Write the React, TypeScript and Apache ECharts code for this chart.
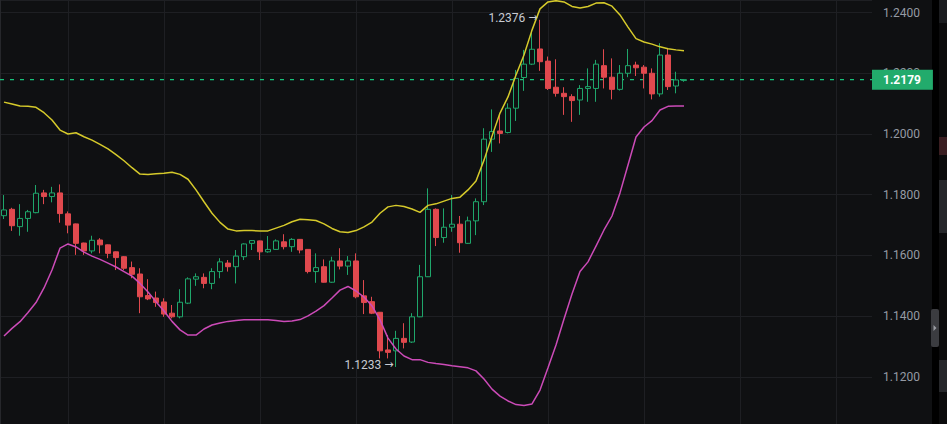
import React, { useEffect, useRef } from "react";
import * as echarts from "echarts";

// OHLC values (EUR/USD-like, 4 decimals)
const opens = [
  1.1731, 1.1752, 1.1695, 1.1722, 1.1741, 1.1806, 1.1794, 1.1806, 1.1737, 1.1704,
  1.1641, 1.1615, 1.1651, 1.1635, 1.1612, 1.1596, 1.1560, 1.1539, 1.1468, 1.1460,
  1.1447, 1.1410, 1.1398, 1.1443, 1.1522, 1.1528, 1.1508, 1.1547, 1.1575, 1.1563,
  1.1596, 1.1640, 1.1648, 1.1612, 1.1620, 1.1645, 1.1629, 1.1653, 1.1620, 1.1547,
  1.1563, 1.1512, 1.1582, 1.1565, 1.1582, 1.1467, 1.1448, 1.1413, 1.1289, 1.1286,
  1.1327, 1.1315, 1.1398, 1.1530, 1.1752, 1.1659, 1.1693, 1.1703, 1.1640, 1.1714,
  1.1777, 1.1983, 1.2010, 1.2005, 1.2085, 1.2186, 1.2230, 1.2280, 1.2240, 1.2154,
  1.2134, 1.2123, 1.2112, 1.2150, 1.2150, 1.2225, 1.2187, 1.2147, 1.2200, 1.2227,
  1.2220, 1.2200, 1.2132, 1.2260, 1.2158, 1.2176,
];
const closes = [
  1.1750, 1.1698, 1.1722, 1.1744, 1.1805, 1.1794, 1.1806, 1.1738, 1.1700, 1.1640,
  1.1615, 1.1650, 1.1635, 1.1607, 1.1593, 1.1558, 1.1538, 1.1464, 1.1457, 1.1445,
  1.1407, 1.1398, 1.1446, 1.1523, 1.1530, 1.1508, 1.1547, 1.1579, 1.1563, 1.1598,
  1.1638, 1.1649, 1.1612, 1.1620, 1.1648, 1.1629, 1.1653, 1.1618, 1.1547, 1.1560,
  1.1512, 1.1582, 1.1565, 1.1582, 1.1464, 1.1445, 1.1410, 1.1286, 1.1281, 1.1327,
  1.1314, 1.1398, 1.1530, 1.1752, 1.1659, 1.1693, 1.1703, 1.1642, 1.1714, 1.1777,
  1.1983, 1.2008, 1.2002, 1.2085, 1.2183, 1.2230, 1.2279, 1.2238, 1.2150, 1.2134,
  1.2123, 1.2110, 1.2150, 1.2156, 1.2230, 1.2187, 1.2147, 1.2200, 1.2225, 1.2218,
  1.2200, 1.2132, 1.2260, 1.2156, 1.2178, 1.2179,
];
const highs = [
  1.1799, 1.1757, 1.1769, 1.1750, 1.1832, 1.1816, 1.1826, 1.1834, 1.1745, 1.1705,
  1.1642, 1.1665, 1.1657, 1.1636, 1.1613, 1.1598, 1.1580, 1.1558, 1.1522, 1.1481,
  1.1459, 1.1437, 1.1489, 1.1528, 1.1541, 1.1541, 1.1558, 1.1591, 1.1585, 1.1618,
  1.1640, 1.1651, 1.1649, 1.1664, 1.1653, 1.1670, 1.1657, 1.1654, 1.1621, 1.1607,
  1.1587, 1.1596, 1.1624, 1.1598, 1.1607, 1.1519, 1.1464, 1.1414, 1.1338, 1.1352,
  1.1377, 1.1410, 1.1569, 1.1821, 1.1755, 1.1755, 1.1799, 1.1730, 1.1728, 1.1788,
  1.2019, 1.2081, 1.2063, 1.2101, 1.2211, 1.2277, 1.2342, 1.2376, 1.2255, 1.2246,
  1.2154, 1.2131, 1.2161, 1.2216, 1.2244, 1.2279, 1.2249, 1.2227, 1.2280, 1.2238,
  1.2227, 1.2216, 1.2299, 1.2282, 1.2205, 1.2180,
];
const lows = [
  1.1720, 1.1681, 1.1665, 1.1678, 1.1739, 1.1769, 1.1775, 1.1708, 1.1673, 1.1602,
  1.1602, 1.1607, 1.1607, 1.1591, 1.1552, 1.1552, 1.1525, 1.1410, 1.1453, 1.1431,
  1.1398, 1.1393, 1.1393, 1.1440, 1.1500, 1.1492, 1.1489, 1.1525, 1.1547, 1.1508,
  1.1585, 1.1618, 1.1585, 1.1609, 1.1618, 1.1620, 1.1612, 1.1607, 1.1541, 1.1510,
  1.1511, 1.1510, 1.1554, 1.1536, 1.1459, 1.1407, 1.1407, 1.1261, 1.1261, 1.1233,
  1.1294, 1.1312, 1.1397, 1.1529, 1.1631, 1.1642, 1.1678, 1.1609, 1.1638, 1.1667,
  1.1766, 1.1941, 1.1969, 1.2002, 1.2043, 1.2142, 1.2227, 1.2208, 1.2145, 1.2123,
  1.2063, 1.2040, 1.2063, 1.2106, 1.2106, 1.2150, 1.2114, 1.2143, 1.2187, 1.2191,
  1.2150, 1.2114, 1.2123, 1.2145, 1.2134, 1.2172,
];

// Bollinger band lines
const upperBand = [
  1.2105, 1.2099, 1.2092, 1.2091, 1.2088, 1.2070, 1.2046, 1.2013, 1.2000, 1.2004,
  1.1991, 1.1980, 1.1966, 1.1951, 1.1932, 1.1912, 1.1889, 1.1868, 1.1867, 1.1869,
  1.1871, 1.1874, 1.1867, 1.1851, 1.1816, 1.1777, 1.1739, 1.1709, 1.1687, 1.1681,
  1.1682, 1.1682, 1.1681, 1.1681, 1.1690, 1.1699, 1.1711, 1.1719, 1.1718, 1.1715,
  1.1704, 1.1689, 1.1678, 1.1676, 1.1682, 1.1694, 1.1710, 1.1739, 1.1760, 1.1765,
  1.1761, 1.1753, 1.1742, 1.1765, 1.1770, 1.1779, 1.1788, 1.1792, 1.1816, 1.1845,
  1.1914, 1.1993, 1.2069, 1.2122, 1.2194, 1.2260, 1.2342, 1.2412, 1.2435, 1.2439,
  1.2435, 1.2420, 1.2415, 1.2420, 1.2431, 1.2432, 1.2421, 1.2392, 1.2352, 1.2314,
  1.2303, 1.2296, 1.2287, 1.2281, 1.2277, 1.2274,
];
const lowerBand = [
  1.1335, 1.1360, 1.1382, 1.1412, 1.1445, 1.1493, 1.1552, 1.1624, 1.1638, 1.1628,
  1.1611, 1.1598, 1.1587, 1.1575, 1.1562, 1.1547, 1.1532, 1.1508, 1.1480, 1.1448,
  1.1417, 1.1383, 1.1355, 1.1338, 1.1338, 1.1358, 1.1371, 1.1378, 1.1383, 1.1386,
  1.1388, 1.1388, 1.1388, 1.1388, 1.1386, 1.1383, 1.1384, 1.1389, 1.1401, 1.1417,
  1.1435, 1.1460, 1.1486, 1.1498, 1.1483, 1.1463, 1.1434, 1.1388, 1.1328, 1.1292,
  1.1269, 1.1257, 1.1257, 1.1248, 1.1244, 1.1241, 1.1237, 1.1234, 1.1230, 1.1220,
  1.1193, 1.1160, 1.1137, 1.1121, 1.1109, 1.1106, 1.1111, 1.1157, 1.1230, 1.1305,
  1.1391, 1.1473, 1.1547, 1.1579, 1.1631, 1.1684, 1.1730, 1.1806, 1.1898, 1.1990,
  1.2023, 1.2044, 1.2079, 1.2091, 1.2092, 1.2092,
];

// empty future slots to the right of the last candle
const futureSlots = 23;
// visible price range of the pane
const priceMin = 1.104511;
const priceMax = 1.244122;

const BG = "#0f1012";
const GREEN = "#1fa66b";
const TAG_GREEN = "#22ab6c";
const LINE_GREEN = "#17c27c";
const RED = "#e0494e";
const GRID = "#1e1f23";
const FONT = 'Roboto, "Noto Sans", sans-serif';

export default function App() {
  const ref = useRef<HTMLDivElement>(null);

  useEffect(() => {
    const el = ref.current;
    if (!el) return;
    const chart = echarts.init(el, null, { renderer: "svg" });

    const n = opens.length;
    const total = n + futureSlots;
    const categories = Array.from({ length: total }, (_, i) => String(i));
    const candles = opens.map((o, i) => [o, closes[i], lows[i], highs[i]]);

    let hiIdx = 0;
    let loIdx = 0;
    highs.forEach((h, i) => {
      if (h > highs[hiIdx]) hiIdx = i;
    });
    lows.forEach((l, i) => {
      if (l < lows[loIdx]) loIdx = i;
    });
    const lastClose = closes[n - 1];

    const annotLabel = {
      show: true,
      position: "left" as const,
      distance: 2,
      offset: [0, -2],
      color: "#c8cbd2",
      fontSize: 12,
      fontFamily: FONT,
      rich: {
        v: { color: "#c8cbd2", fontSize: 12, fontFamily: FONT },
        a: { color: "#c8cbd2", fontSize: 11, fontFamily: '"DejaVu Sans", sans-serif', padding: [0, 0, 0, 3] },
      },
    };

    chart.setOption({
      animation: false,
      backgroundColor: BG,
      grid: {
        left: 0,
        right: 75,
        top: 0,
        bottom: 0,
        containLabel: false,
        outerBoundsMode: "none",
      },
      xAxis: [
        {
          type: "category",
          data: categories,
          boundaryGap: true,
          axisLine: { show: false },
          axisTick: { show: false },
          axisLabel: { show: false },
          splitLine: {
            show: true,
            alignWithLabel: true,
            interval: (index: number) => index % 12 === 8,
            lineStyle: { color: GRID, width: 1 },
          },
        },
        {
          // helper axis spanning the full pane width for the last-price line
          type: "value",
          min: 0,
          max: 1,
          show: false,
        },
      ],
      yAxis: {
        type: "value",
        position: "right",
        min: priceMin,
        max: priceMax,
        splitNumber: 7,
        scale: true,
        axisLine: { show: true, lineStyle: { color: "#26272b" } },
        axisTick: { show: false },
        axisLabel: {
          show: true,
          margin: 11,
          color: "#959aa4",
          fontSize: 12,
          fontFamily: FONT,
          showMinLabel: false,
          showMaxLabel: false,
          formatter: (v: number) => v.toFixed(4),
        },
        splitLine: { show: true, lineStyle: { color: GRID, width: 1 } },
      },
      series: [
        {
          type: "line",
          name: "last",
          xAxisIndex: 1,
          data: [
            [0, lastClose],
            [1, lastClose],
          ],
          showSymbol: false,
          symbol: "none",
          clip: false,
          silent: true,
          z: 1,
          color: LINE_GREEN,
          lineStyle: { color: LINE_GREEN, type: [4, 6], width: 1.2, opacity: 1 },
          endLabel: {
            show: true,
            distance: 0,
            formatter: () => lastClose.toFixed(4),
            backgroundColor: TAG_GREEN,
            color: "#ffffff",
            fontSize: 12,
            fontWeight: "bold",
            fontFamily: FONT,
            lineHeight: 12,
            padding: [4, 12, 4, 11],
          },
        },
        {
          type: "line",
          name: "upper",
          data: upperBand,
          showSymbol: false,
          symbol: "none",
          lineStyle: { color: "#d6ca2b", width: 1.5 },
          z: 3,
          silent: true,
        },
        {
          type: "line",
          name: "lower",
          data: lowerBand,
          showSymbol: false,
          symbol: "none",
          lineStyle: { color: "#cc4bb8", width: 1.5 },
          z: 3,
          silent: true,
        },
        {
          type: "candlestick",
          name: "price",
          data: candles,
          barWidth: 5,
          clip: false,
          z: 2,
          itemStyle: {
            color: BG,
            borderColor: GREEN,
            color0: RED,
            borderColor0: RED,
            borderWidth: 1,
          },
          markPoint: {
            silent: true,
            animation: false,
            data: [
              {
                coord: [hiIdx, highs[hiIdx]],
                symbol: "circle",
                symbolSize: 1,
                itemStyle: { color: "rgba(0,0,0,0)" },
                label: { ...annotLabel, formatter: () => `{v|${highs[hiIdx].toFixed(4)}}{a|→}` },
              },
              {
                coord: [loIdx, lows[loIdx]],
                symbol: "circle",
                symbolSize: 1,
                itemStyle: { color: "rgba(0,0,0,0)" },
                label: { ...annotLabel, formatter: () => `{v|${lows[loIdx].toFixed(4)}}{a|→}` },
              },
            ],
          },
        },
      ],
      graphic: [
        { type: "rect", silent: true, shape: { x: 932, y: 0, width: 15, height: 424 }, style: { fill: "#000000" } },
        { type: "rect", silent: true, shape: { x: 939, y: 0, width: 8, height: 424 }, style: { fill: "#0b0b0c" } },
        { type: "rect", silent: true, shape: { x: 939, y: 0, width: 8, height: 23 }, style: { fill: "#1b1c1f" } },
        { type: "rect", silent: true, shape: { x: 939, y: 137, width: 8, height: 18 }, style: { fill: "#3a1e21" } },
        { type: "rect", silent: true, shape: { x: 939, y: 180, width: 8, height: 53 }, style: { fill: "#26272a" } },
        { type: "rect", silent: true, shape: { x: 939, y: 360, width: 8, height: 32 }, style: { fill: "#26272a" } },
        { type: "rect", silent: true, shape: { x: 931, y: 309, width: 8, height: 38, r: 2 }, style: { fill: "#3b3c40" } },
        {
          type: "polygon",
          silent: true,
          shape: { points: [[933.5, 325], [936.5, 328], [933.5, 331]] },
          style: { fill: "#9a9ca2" },
        },
      ],
    });

    return () => {
      chart.dispose();
    };
  }, []);

  return (
    <div
      ref={ref}
      style={{ position: "fixed", left: 0, top: 0, width: 947, height: 424 }}
    />
  );
}
